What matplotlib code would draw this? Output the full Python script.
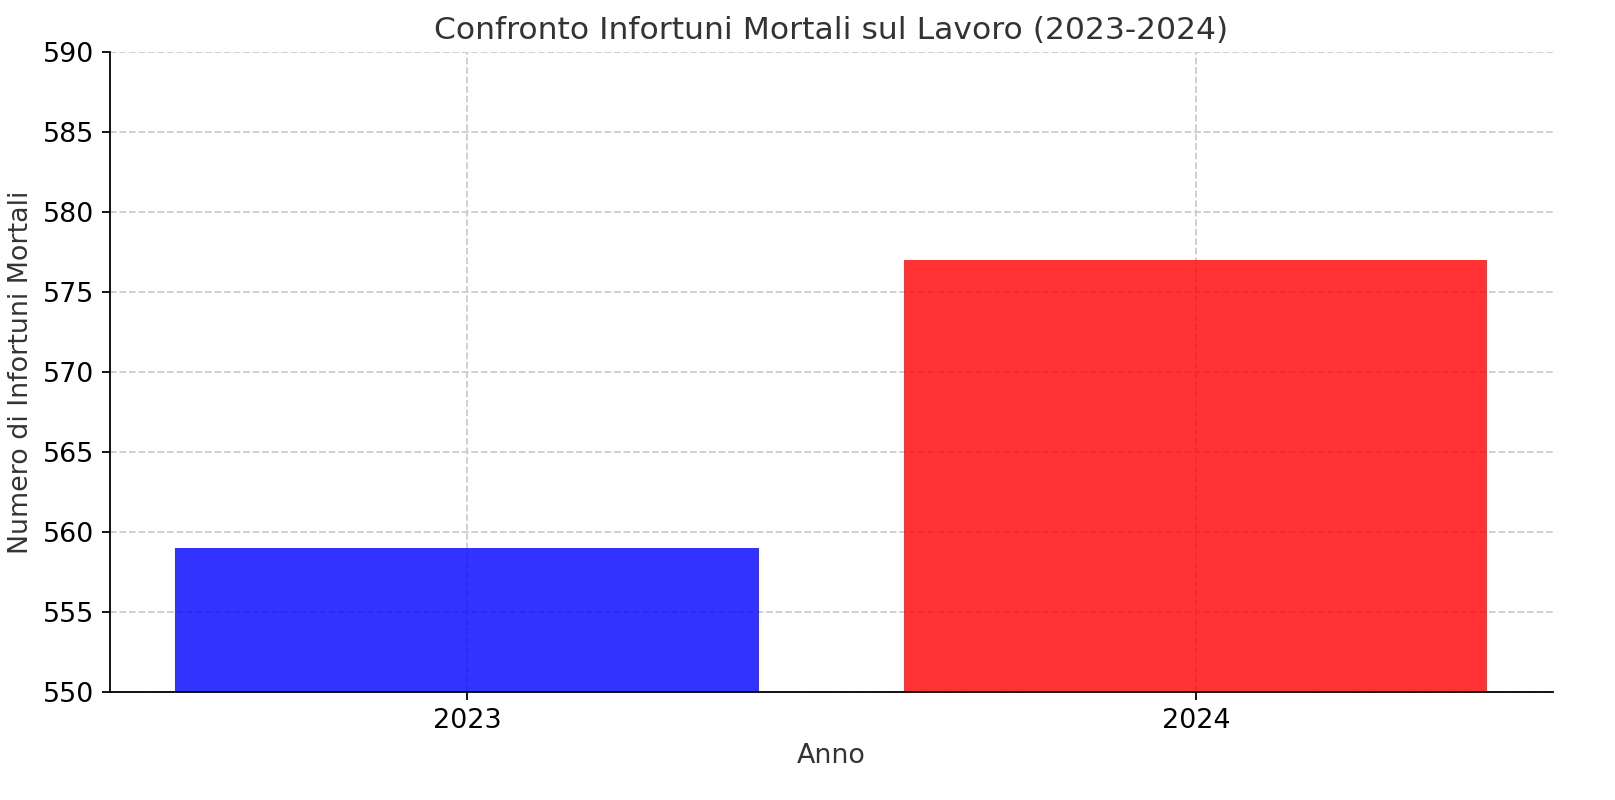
import matplotlib
matplotlib.use("Agg")
import matplotlib.pyplot as plt

# Dati
anni = ["2023", "2024"]
infortuni = [559, 577]
colori = ["blue", "red"]

fig, ax = plt.subplots(figsize=(10, 800 / 161.5), dpi=161.5)
fig.subplots_adjust(left=0.068, right=0.9616, bottom=0.135, top=0.935)

ax.bar(anni, infortuni, color=colori, alpha=0.8, zorder=2)
ax.set_ylim(550, 590)

ax.set_title("Confronto Infortuni Mortali sul Lavoro (2023-2024)", fontsize=14, color="#333333")
ax.set_xlabel("Anno", fontsize=12, color="#333333")
ax.set_ylabel("Numero di Infortuni Mortali", fontsize=12, color="#333333")
ax.tick_params(labelsize=12)

ax.grid(True, linestyle="--", color="#cccccc", linewidth=0.8, zorder=0)
ax.spines["top"].set_visible(False)
ax.spines["right"].set_visible(False)

fig.savefig("out.png", dpi=161.5)
